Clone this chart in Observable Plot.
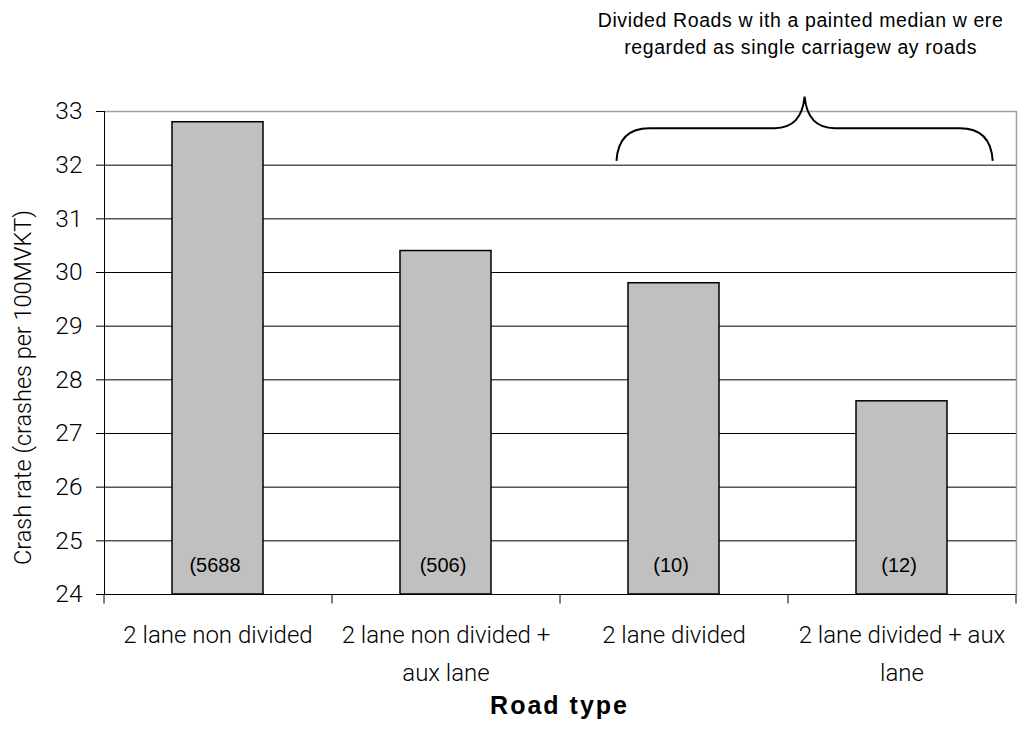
<!DOCTYPE html>
<html>
<head>
<meta charset="utf-8">
<script src="https://cdn.jsdelivr.net/npm/d3@7"></script>
<script src="https://cdn.jsdelivr.net/npm/@observablehq/plot@0.6"></script>
<style>
  body { margin: 0; background: #fff; }
</style>
</head>
<body>
<div id="chart"></div>
<script>
// ---------- data ----------
const categories = [
  "2 lane non divided",
  "2 lane non divided + aux lane",
  "2 lane divided",
  "2 lane divided + aux lane"
];
const crashRates = [32.8, 30.4, 29.8, 27.6];
const crashCounts = ["(5688", "(506)", "(10)", "(12)"];
const tickLabels = [
  "2 lane non divided",
  "2 lane non divided +\naux lane",
  "2 lane divided",
  "2 lane divided + aux\nlane"
];
const yTicks = [24, 25, 26, 27, 28, 29, 30, 31, 32, 33];
const braceCategories = ["2 lane divided", "2 lane divided + aux lane"];
const braceLevels = [32.07, 32.68, 33.27]; // ends, bar, peak
const annotationLines = [
  "Divided Roads w ith a painted median w ere",
  "regarded as single carriagew ay roads"
];
const xTitle = "Road type";
const yTitle = "Crash rate (crashes per 100MVKT)";

const data = categories.map((c, i) => ({
  category: c, rate: crashRates[i], count: crashCounts[i], label: tickLabels[i]
}));
const yMin = yTicks[0], yMax = yTicks[yTicks.length - 1];

const plot = Plot.plot({
  width: 1019,
  height: 738,
  marginLeft: 104,
  marginRight: 3,
  marginTop: 111,
  marginBottom: 144,
  style: { fontFamily: "Roboto, sans-serif", background: "#fff", color: "#000" },
  x: { type: "band", domain: categories, paddingInner: 0.6, paddingOuter: 0.3, axis: null },
  y: { domain: [yMin, yMax], axis: null },
  marks: [
    Plot.gridY(yTicks.slice(1, -1), { stroke: "#000", strokeOpacity: 1, strokeWidth: 1 }),
    Plot.ruleY([yMax], { stroke: "#a0a0a0", strokeWidth: 1.5 }),
    Plot.frame({ anchor: "right", stroke: "#a0a0a0", strokeWidth: 1.5 }),
    Plot.barY(data, { x: "category", y1: yMin, y2: "rate", fill: "#c0c0c0", stroke: "#000", strokeWidth: 1.5 }),
    Plot.ruleY([yMin], { stroke: "#000", strokeWidth: 1 }),
    Plot.frame({ anchor: "left", stroke: "#000", strokeWidth: 1 }),
    Plot.axisY({
      ticks: yTicks, tickSize: 8, tickPadding: 14, fontSize: 24.5, fontWeight: 300,
      tickFormat: d => String(d), label: null, stroke: "#000", strokeOpacity: 1
    }),
    Plot.text(data, {
      x: "category", text: "count", frameAnchor: "bottom", dy: -23, dx: -3,
      fontFamily: "'Liberation Sans', Arial, sans-serif", fontSize: 20, fill: "#000",
      ariaLabel: "counts"
    }),
    Plot.text(data, {
      x: "category", text: "label", frameAnchor: "bottom", lineAnchor: "top", dy: 22,
      fontSize: 24, fontWeight: 300, lineHeight: 1.58, fill: "#000"
    })
  ]
});

document.getElementById("chart").appendChild(plot);

// ---------- annotations drawn with the plot's own scales ----------
const svg = d3.select(plot);
svg.select('g[aria-label="counts"]').attr("letter-spacing", "1px");
const xs = plot.scale("x"), ys = plot.scale("y");
const step = xs.step, bw = xs.bandwidth;
const center = c => xs.apply(c) + bw / 2;
const y0 = ys.apply(yMin);

// category boundary ticks on the x axis
const bounds = categories.map(c => center(c) - step / 2)
  .concat([center(categories[categories.length - 1]) + step / 2]);
svg.append("g").selectAll("line").data(bounds).join("line")
  .attr("x1", d => d + 0.5).attr("x2", d => d + 0.5)
  .attr("y1", y0 + 0.5).attr("y2", y0 + 9.5)
  .attr("stroke", "#000").attr("stroke-width", 1);

// curly brace
const L = center(braceCategories[0]) - 0.25 * step;
const R = center(braceCategories[1]) + 0.4 * step;
const P = (L + R) / 2;
const yb = ys.apply(braceLevels[0]), yh = ys.apply(braceLevels[1]), yp = ys.apply(braceLevels[2]);
const path = [
  `M${L},${yb}`,
  `C${L + 1},${yh + 14} ${L + 10},${yh} ${L + 33},${yh}`,
  `H${P - 30}`,
  `C${P - 12},${yh} ${P - 2},${yh - 10} ${P},${yp}`,
  `C${P + 2},${yh - 10} ${P + 12},${yh} ${P + 30},${yh}`,
  `H${R - 33}`,
  `C${R - 10},${yh} ${R - 1},${yh + 14} ${R},${yb}`
].join(" ");
svg.append("path").attr("d", path).attr("fill", "none")
  .attr("stroke", "#000").attr("stroke-width", 2);

// annotation text above the brace
const ann = svg.append("text")
  .attr("font-family", "'Liberation Sans', Arial, sans-serif")
  .attr("font-size", 19.5).attr("letter-spacing", "0.6px")
  .attr("text-anchor", "middle").attr("fill", "#000");
annotationLines.forEach((t, i) => {
  ann.append("tspan").attr("x", P - 4).attr("y", yp - 70 + i * 27).text(t);
});

// axis titles
svg.append("text")
  .attr("transform", `translate(31,${(ys.apply(yMax) + y0) / 2 + 35}) rotate(-90)`)
  .attr("text-anchor", "middle").attr("font-family", "Roboto, sans-serif")
  .attr("font-weight", 300).attr("font-size", 23.5).attr("fill", "#000")
  .text(yTitle);
svg.append("text")
  .attr("x", (xs.apply(categories[0]) - xs.step * 0.3 + center(categories[3]) + step / 2) / 2)
  .attr("y", 714)
  .attr("text-anchor", "middle").attr("font-family", "'Liberation Sans', Arial, sans-serif")
  .attr("font-weight", "bold").attr("font-size", 25).attr("letter-spacing", "2px")
  .attr("fill", "#000")
  .text(xTitle);
</script>
</body>
</html>
